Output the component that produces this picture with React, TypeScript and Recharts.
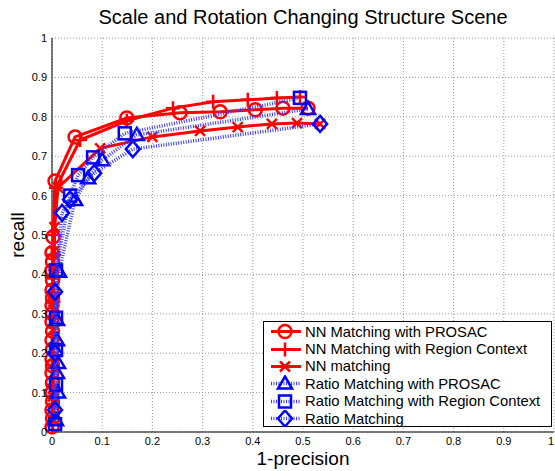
import React from "react";
import { ScatterChart, Scatter, XAxis, YAxis, CartesianGrid } from "recharts";

// 1-precision / recall
const nnProsacX = [0, 0.001, 0, 0.001, 0, 0.001, 0, 0.001, 0, 0.001, 0, 0.001, 0, 0.001, 0, 0.001, 0, 0.001, 0, 0.001, 0, 0.002, 0.006, 0.046, 0.149, 0.255, 0.335, 0.405, 0.46, 0.51];
const nnProsacY = [0.013, 0.035, 0.056, 0.078, 0.1, 0.125, 0.15, 0.168, 0.185, 0.21, 0.233, 0.256, 0.28, 0.3, 0.322, 0.34, 0.36, 0.385, 0.41, 0.432, 0.455, 0.495, 0.637, 0.749, 0.797, 0.81, 0.813, 0.818, 0.822, 0.822];

const nnRegionX = [0.002, 0.002, 0.002, 0.002, 0.002, 0.002, 0.003, 0.003, 0.004, 0.005, 0.008, 0.056, 0.149, 0.241, 0.321, 0.39, 0.448, 0.494];
const nnRegionY = [0.02, 0.07, 0.12, 0.17, 0.22, 0.27, 0.33, 0.39, 0.45, 0.5, 0.62, 0.741, 0.79, 0.822, 0.838, 0.843, 0.848, 0.85];

const nnX = [0.002, 0.002, 0.002, 0.002, 0.003, 0.003, 0.004, 0.005, 0.012, 0.096, 0.2, 0.295, 0.37, 0.438, 0.488, 0.534];
const nnY = [0.03, 0.09, 0.19, 0.26, 0.33, 0.4, 0.46, 0.52, 0.62, 0.72, 0.749, 0.764, 0.774, 0.782, 0.784, 0.782];

const ratioProsacX = [0.008, 0.012, 0.01, 0.012, 0.01, 0.01, 0.014, 0.046, 0.072, 0.1, 0.169, 0.51];
const ratioProsacY = [0.03, 0.1, 0.15, 0.175, 0.233, 0.284, 0.407, 0.589, 0.644, 0.69, 0.754, 0.82];

const ratioRegionX = [0.006, 0.008, 0.008, 0.008, 0.008, 0.036, 0.052, 0.082, 0.145, 0.494];
const ratioRegionY = [0.02, 0.12, 0.208, 0.29, 0.41, 0.6, 0.652, 0.697, 0.758, 0.848];

const ratioX = [0.006, 0.006, 0.006, 0.02, 0.036, 0.084, 0.161, 0.534];
const ratioY = [0.056, 0.2, 0.356, 0.556, 0.59, 0.657, 0.718, 0.782];

const ticks = [0, 0.1, 0.2, 0.3, 0.4, 0.5, 0.6, 0.7, 0.8, 0.9, 1];

const FONT = "'Liberation Sans', Arial, Helvetica, sans-serif";
const RED = "#ff0000";
const BLUE = "#0000ff";

const toPts = (xs: number[], ys: number[]) => xs.map((x, i) => ({ x, y: ys[i] }));

type MarkerKind = "circle" | "plus" | "x" | "triangle" | "square" | "diamond";

function marker(kind: MarkerKind, cx: number, cy: number, color: string) {
  const sw = 2.5;
  switch (kind) {
    case "circle":
      return <circle cx={cx} cy={cy} r={6.5} fill="none" stroke={color} strokeWidth={sw} />;
    case "plus":
      return <path d={`M${cx - 7},${cy}H${cx + 7}M${cx},${cy - 7}V${cy + 7}`} stroke={color} strokeWidth={sw} />;
    case "x":
      return <path d={`M${cx - 5},${cy - 5}L${cx + 5},${cy + 5}M${cx - 5},${cy + 5}L${cx + 5},${cy - 5}`} stroke={color} strokeWidth={sw} />;
    case "triangle":
      return <polygon points={`${cx},${cy - 7} ${cx + 7},${cy + 5} ${cx - 7},${cy + 5}`} fill="none" stroke={color} strokeWidth={sw} />;
    case "square":
      return <rect x={cx - 6} y={cy - 6} width={12} height={12} fill="none" stroke={color} strokeWidth={sw} />;
    case "diamond":
      return <polygon points={`${cx},${cy - 8} ${cx + 7},${cy} ${cx},${cy + 8} ${cx - 7},${cy}`} fill="none" stroke={color} strokeWidth={sw} />;
  }
}

const series: { name: string; data: { x: number; y: number }[]; kind: MarkerKind; color: string; dotted: boolean }[] = [
  { name: "NN Matching with PROSAC", data: toPts(nnProsacX, nnProsacY), kind: "circle", color: RED, dotted: false },
  { name: "NN Matching with Region Context", data: toPts(nnRegionX, nnRegionY), kind: "plus", color: RED, dotted: false },
  { name: "NN matching", data: toPts(nnX, nnY), kind: "x", color: RED, dotted: false },
  { name: "Ratio Matching with PROSAC", data: toPts(ratioProsacX, ratioProsacY), kind: "triangle", color: BLUE, dotted: true },
  { name: "Ratio Matching with Region Context", data: toPts(ratioRegionX, ratioRegionY), kind: "square", color: BLUE, dotted: true },
  { name: "Ratio Matching", data: toPts(ratioX, ratioY), kind: "diamond", color: BLUE, dotted: true },
];

const lineStyle = (color: string, dotted: boolean) =>
  dotted
    ? { stroke: "#3a3aff", strokeWidth: 3.5, strokeDasharray: "1 1.5" }
    : { stroke: color, strokeWidth: 3 };

// last x tick sits on the page edge, so anchor it at its end
const XTick = (p: any) => {
  const last = p.payload.value === 1;
  return (
    <text x={p.x} y={p.y} dy="0.71em" textAnchor={last ? "end" : "middle"} fill="#000" fontSize={11} fontFamily={FONT}>
      {p.payload.value}
    </text>
  );
};

function LegendBox() {
  return (
    <div
      style={{
        position: "absolute",
        left: 263,
        top: 321,
        width: 289,
        height: 106,
        border: "1px solid #000",
        background: "#fff",
        boxSizing: "border-box",
        fontFamily: FONT,
        fontSize: 14.8,
        paddingTop: 1,
      }}
    >
      {series.map((s) => {
        const ls = lineStyle(s.color, s.dotted);
        return (
          <div key={s.name} style={{ height: 17.4, display: "flex", alignItems: "center", whiteSpace: "nowrap" }}>
            <svg width={40} height={17} style={{ marginLeft: 4, flex: "none" }}>
              <line x1={3} x2={33} y1={8.5} y2={8.5} {...ls} />
              {marker(s.kind, 17, 8.5, s.color)}
            </svg>
            <span style={{ marginLeft: -3 }}>{s.name}</span>
          </div>
        );
      })}
    </div>
  );
}

export default function App() {
  return (
    <div style={{ position: "absolute", left: 0, top: 0, width: 555, height: 471, background: "#fff", fontFamily: FONT }}>
      <ScatterChart width={555} height={471} margin={{ top: 38, right: 1, bottom: 0, left: 0 }}>
        <CartesianGrid stroke="#9a9a9a" strokeDasharray="1 2" />
        <XAxis
          type="number"
          dataKey="x"
          domain={[0, 1]}
          ticks={ticks}
          height={39}
          tickSize={0}
          tickMargin={5}
          axisLine={{ stroke: "#000" }}
          tick={<XTick />}
          interval={0}
        />
        <YAxis
          type="number"
          dataKey="y"
          domain={[0, 1]}
          ticks={ticks}
          width={52}
          tickSize={0}
          tickMargin={5}
          axisLine={{ stroke: "#000" }}
          tick={{ fill: "#000", fontSize: 11, fontFamily: FONT }}
          interval={0}
        />
        {series.map((s) => (
          <Scatter
            key={s.name}
            name={s.name}
            data={s.data}
            line={lineStyle(s.color, s.dotted)}
            lineType="joint"
            isAnimationActive={false}
            shape={(p: any) => marker(s.kind, p.cx, p.cy, s.color)}
          />
        ))}
      </ScatterChart>
      <div style={{ position: "absolute", left: 52, width: 502, top: 6, textAlign: "center", fontSize: 20, color: "#000", whiteSpace: "nowrap" }}>
        Scale and Rotation Changing Structure Scene
      </div>
      <div style={{ position: "absolute", left: 52, width: 502, top: 448, textAlign: "center", fontSize: 19, color: "#000" }}>
        1-precision
      </div>
      <div
        style={{
          position: "absolute",
          left: 18,
          top: 235,
          transform: "translate(-50%, -50%) rotate(-90deg)",
          fontSize: 19,
          color: "#000",
          whiteSpace: "nowrap",
        }}
      >
        recall
      </div>
      <LegendBox />
    </div>
  );
}
